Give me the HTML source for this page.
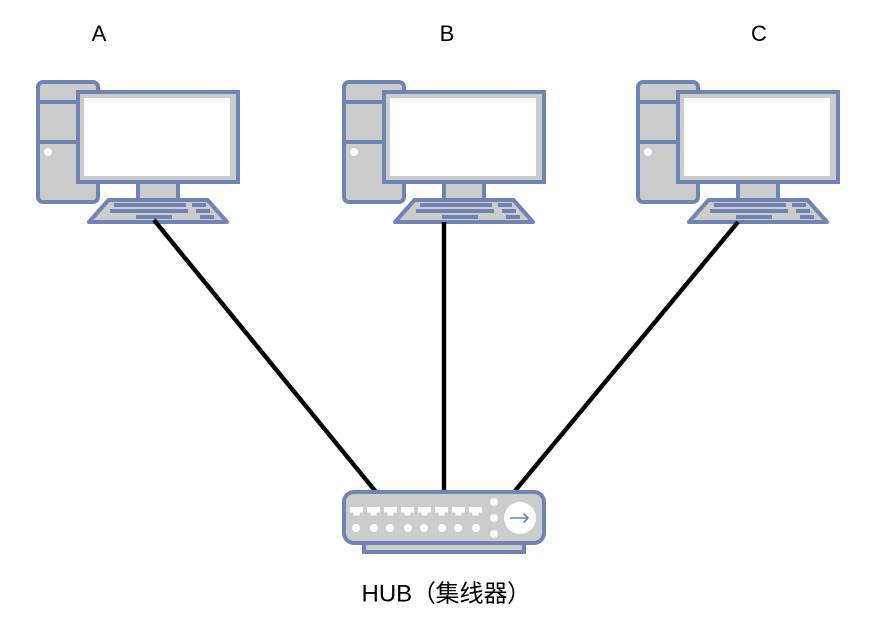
<!DOCTYPE html>
<html>
<head>
<meta charset="utf-8">
<style>
html,body{margin:0;padding:0;background:#fff;width:888px;height:642px;overflow:hidden}
svg{display:block}
text{font-family:"Liberation Sans","Noto Sans CJK SC",sans-serif;font-size:22px;fill:#000}
</style>
</head>
<body>
<svg width="888" height="642" viewBox="0 0 888 642" xmlns="http://www.w3.org/2000/svg">
<defs>
<g id="pc">
  <rect x="38" y="82" width="60" height="120" rx="5" fill="#cccccc" stroke="#6f84b2" stroke-width="4"/>
  <rect x="38" y="100" width="60" height="4" fill="#6f84b2"/>
  <rect x="38" y="140" width="60" height="4" fill="#6f84b2"/>
  <circle cx="48" cy="152" r="4" fill="#fff"/>
  <rect x="138" y="182" width="40" height="18" fill="#cccccc" stroke="#6f84b2" stroke-width="4"/>
  <rect x="78" y="92" width="160" height="90" fill="#cccccc" stroke="#6f84b2" stroke-width="4"/>
  <rect x="84" y="98" width="146" height="78" fill="#fff"/>
  <path d="M108.500 200 H207.500 L227 222 H89 Z" fill="#cccccc" stroke="#6f84b2" stroke-width="4" stroke-linejoin="round"/>
  <g fill="#6f84b2">
    <rect x="114" y="203" width="72" height="4"/>
    <rect x="192" y="203" width="14" height="4"/>
    <rect x="110" y="209" width="78" height="4"/>
    <rect x="196" y="209" width="14" height="4"/>
    <rect x="136" y="215" width="36" height="4"/>
    <rect x="200" y="215" width="14" height="4"/>
  </g>
</g>
<path id="port" d="M0 0 H13 V5.500 H9.500 V8.500 H3.500 V5.500 H0 Z" fill="#fff"/>
</defs>

<text x="99" y="41" text-anchor="middle">A</text>
<text x="447" y="41" text-anchor="middle">B</text>
<text x="759" y="41" text-anchor="middle">C</text>

<use href="#pc"/>
<use href="#pc" x="306"/>
<use href="#pc" x="600"/>

<g stroke="#000" stroke-width="4.400" fill="none">
  <line x1="154" y1="220" x2="376" y2="492"/>
  <line x1="444" y1="222" x2="444" y2="492"/>
  <line x1="738" y1="222" x2="514" y2="492"/>
</g>

<rect x="364" y="543" width="160" height="9" fill="#cccccc" stroke="#6f84b2" stroke-width="4"/>
<rect x="344" y="492" width="200" height="51" rx="10" fill="#cccccc" stroke="#6f84b2" stroke-width="4"/>

<use href="#port" x="350" y="507"/>
<use href="#port" x="367" y="507"/>
<use href="#port" x="384" y="507"/>
<use href="#port" x="401" y="507"/>
<use href="#port" x="418" y="507"/>
<use href="#port" x="435" y="507"/>
<use href="#port" x="452" y="507"/>
<use href="#port" x="469" y="507"/>

<g fill="#fff">
  <circle cx="356" cy="528" r="4"/>
  <circle cx="374" cy="528" r="4"/>
  <circle cx="390" cy="528" r="4"/>
  <circle cx="408" cy="528" r="4"/>
  <circle cx="424" cy="528" r="4"/>
  <circle cx="442" cy="528" r="4"/>
  <circle cx="458" cy="528" r="4"/>
  <circle cx="476" cy="528" r="4"/>
  <circle cx="494" cy="502" r="4"/>
  <circle cx="494" cy="518" r="4"/>
  <circle cx="494" cy="534" r="4"/>
  <circle cx="520" cy="518" r="16"/>
</g>
<path d="M510 518 H528 M523.500 513.500 L528 518 L523.500 522.500" fill="none" stroke="#6f84b2" stroke-width="1.600"/>

<text y="601.500" style="font-size:24px"><tspan x="361.500">HUB</tspan><tspan x="412">（</tspan><tspan x="435.500">集线器</tspan><tspan x="507">）</tspan></text>
</svg>
</body>
</html>
